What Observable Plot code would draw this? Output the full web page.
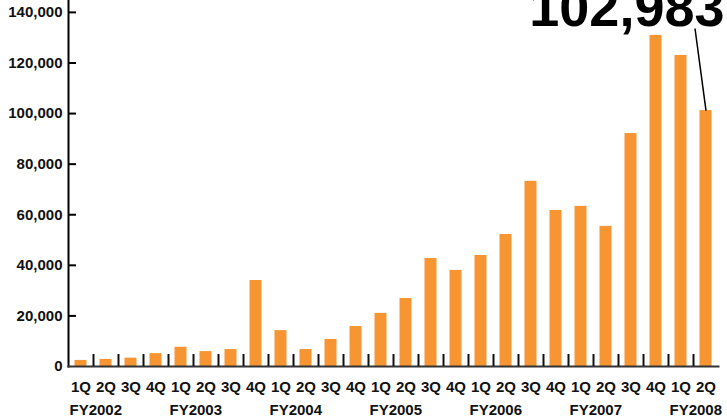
<!DOCTYPE html>
<html>
<head>
<meta charset="utf-8">
<script src="https://cdn.jsdelivr.net/npm/d3@7"></script>
<script src="https://cdn.jsdelivr.net/npm/@observablehq/plot@0.6"></script>
<style>
  html, body { margin: 0; padding: 0; background: #fff; }
  #chart svg { display: block; }
</style>
</head>
<body>
<div id="chart"></div>
<script>
// ---- data ----
const fiscalYears = ["FY2002", "FY2003", "FY2004", "FY2005", "FY2006", "FY2007", "FY2008"];
const quarters = ["1Q", "2Q", "3Q", "4Q"];
const quartersPerYear = [4, 4, 4, 4, 4, 4, 2];
const values = [
  2400, 2800, 3300, 5100,
  7600, 5900, 6700, 34000,
  14200, 6700, 10700, 15800,
  21000, 26900, 42700, 38000,
  43900, 52200, 73200, 61700,
  63300, 55400, 92100, 130900,
  123000, 101200
];
const yTicks = [0, 20000, 40000, 60000, 80000, 100000, 120000, 140000];
const annotationLabel = "102,983";

// ---- build table ----
const rows = [];
fiscalYears.forEach((fy, i) => {
  for (let q = 0; q < quartersPerYear[i]; q++) {
    rows.push({ fy, q: quarters[q], key: fy + " " + quarters[q], first: q === 0 });
  }
});
rows.forEach((r, i) => (r.value = values[i]));
const categories = rows.map(r => r.key);
const qLabel = new Map(rows.map(r => [r.key, r.q]));

const W = 727, H = 417;
const ml = 68, mr = 9, mt = 0, mb = 51;
const innerW = W - ml - mr, innerH = H - mt - mb;
const step = innerW / categories.length;
const yMax = 144700;
const orange = "#f79533";
const last = rows[rows.length - 1];

const chart = Plot.plot({
  width: W,
  height: H,
  marginLeft: ml,
  marginRight: mr,
  marginTop: mt,
  marginBottom: mb,
  style: {
    fontFamily: "'Liberation Sans', Arial, Helvetica, sans-serif",
    fontSize: "15px",
    fontWeight: "bold",
    color: "#111",
    background: "#fff"
  },
  x: { type: "band", domain: categories, padding: 0 },
  y: { domain: [0, yMax] },
  marks: [
    Plot.barY(rows, { x: "key", y: "value", fill: orange, insetLeft: 6.5, insetRight: 6.5 }),
    // axis lines
    Plot.frame({ anchor: "left", stroke: "#000", strokeWidth: 2 }),
    Plot.frame({ anchor: "bottom", stroke: "#333", strokeWidth: 2 }),
    // y ticks pointing inward
    Plot.ruleY(yTicks.slice(1), { stroke: "#000", strokeWidth: 2, insetRight: innerW - 8 }),
    // quarter separators
    Plot.ruleX(categories.slice(1), { stroke: "#111", strokeWidth: 2, dx: -step / 2, insetTop: innerH - 12 }),
    Plot.axisY({ ticks: yTicks, tickFormat: d3.format(","), tickSize: 0, tickPadding: 6, label: null, fontSize: 15 }),
    Plot.axisX({ tickFormat: d => qLabel.get(d), tickSize: 0, tickPadding: 15, label: null, fontSize: 15 }),
    // fiscal year labels
    Plot.text(rows.filter(r => r.first), {
      x: "key", text: "fy", frameAnchor: "bottom", textAnchor: "start",
      lineAnchor: "middle", dy: 44, dx: -step / 2 + 1, fontSize: 15, fill: "#111"
    }),
    // annotation
    Plot.text([annotationLabel], {
      text: d => d, frameAnchor: "top-right", textAnchor: "end", lineAnchor: "bottom",
      dy: 25, dx: 6, fontSize: 54, fontWeight: "bold", fill: "#000"
    }),
    Plot.link([last], {
      x1: "key", x2: "key", y1: "value", y2: "value", stroke: "#000", strokeWidth: 1.5,
      render: (index, scales, vals, dims, ctx, next) => {
        const X1 = vals.x1, Y1 = vals.y1;
        const nv = {
          ...vals,
          x2: Float64Array.from(X1, x => x - 11),
          y2: Float64Array.from(Y1, () => dims.marginTop + 28)
        };
        return next(index, scales, nv, dims, ctx);
      }
    })
  ]
});
document.getElementById("chart").appendChild(chart);
</script>
</body>
</html>
